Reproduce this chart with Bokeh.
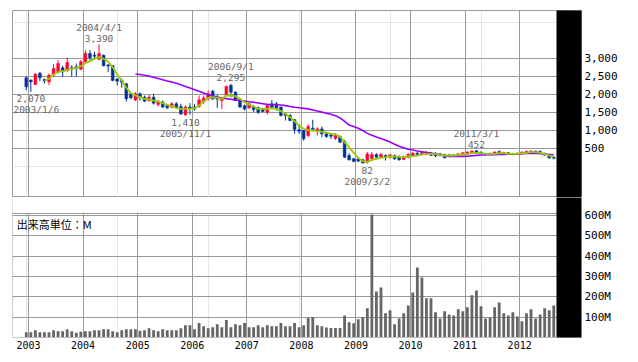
from bokeh.plotting import figure
from bokeh.models import (Range1d, LinearAxis, Grid, FixedTicker, NumeralTickFormatter,
                          Label, ColumnDataSource)
from bokeh.layouts import column
from bokeh.embed import file_html
from bokeh.resources import INLINE
from bokeh.core.properties import value

# ---------------- data (monthly, first bar = 2002/12) ----------------
open_ = [2463, 2400, 2278, 2593, 2420, 2352, 2537, 2630, 2741, 2676,
         2741, 2768, 2704, 2907, 3139, 3093, 2981, 3090, 2820, 2805,
         2430, 2390, 2300, 2020, 1850, 2020, 1925, 1830, 1925, 1720,
         1790, 1700, 1650, 1740, 1665, 1440, 1650, 1650, 1665, 1790,
         1880, 2090, 1925, 1830, 1970, 2250, 2065, 1850, 1690, 1630,
         1665, 1630, 1600, 1510, 1740, 1740, 1650, 1460, 1415, 1300,
         1020, 1000, 860, 1065, 980, 1045, 907, 880, 780, 833,
         695, 305, 215, 210, 185, 120, 215, 330, 260, 305,
         260, 305, 280, 195, 260, 280, 370, 340, 335, 370,
         350, 350, 335, 325, 320, 305, 325, 335, 370, 440,
         400, 360, 330, 350, 420, 360, 380, 360, 330, 350,
         380, 400, 430, 420, 370, 320, 260]
high = [2509, 2417, 2593, 2630, 2444, 2580, 2843, 2954, 2800, 3028,
        2815, 2861, 2954, 3230, 3231, 3185, 3390, 3110, 2850, 2820,
        2460, 2440, 2310, 2055, 2065, 2055, 1970, 1990, 2020, 1850,
        1835, 1740, 1790, 1790, 1740, 1700, 1760, 1740, 1970, 1970,
        2110, 2130, 1990, 1925, 2250, 2295, 2090, 1890, 1720, 1780,
        1700, 1665, 1630, 1740, 1850, 1790, 1665, 1480, 1460, 1320,
        1170, 1020, 1170, 1300, 1090, 1110, 955, 925, 925, 860,
        740, 370, 240, 240, 215, 400, 400, 370, 380, 335,
        350, 335, 305, 305, 370, 400, 400, 420, 430, 400,
        400, 380, 350, 350, 340, 370, 400, 420, 440, 452,
        420, 380, 390, 420, 440, 410, 400, 380, 390, 420,
        440, 450, 440, 440, 380, 330, 280]
low = [2120, 2070, 2260, 2370, 2306, 2260, 2500, 2593, 2490, 2630,
       2490, 2490, 2676, 2861, 2926, 2981, 2954, 2780, 2620, 2370,
       2250, 2190, 1800, 1870, 1815, 1830, 1790, 1790, 1720, 1665,
       1630, 1600, 1620, 1600, 1435, 1410, 1440, 1550, 1630, 1740,
       1830, 1850, 1630, 1600, 1945, 1925, 1815, 1630, 1555, 1600,
       1510, 1460, 1510, 1440, 1600, 1555, 1390, 1280, 1260, 910,
       910, 720, 815, 980, 860, 815, 795, 760, 740, 650,
       240, 165, 120, 120, 90, 82, 165, 240, 240, 165,
       215, 185, 165, 185, 220, 260, 280, 310, 310, 290,
       260, 280, 230, 260, 270, 290, 305, 325, 350, 370,
       340, 300, 310, 330, 350, 330, 320, 310, 315, 330,
       360, 380, 380, 350, 300, 210, 200]
close = [2213, 2352, 2565, 2463, 2380, 2537, 2722, 2861, 2630, 2889,
         2704, 2722, 2907, 3139, 3019, 3065, 3139, 2800, 2790, 2390,
         2370, 2340, 1880, 1910, 2020, 1925, 1815, 1925, 1760, 1815,
         1650, 1630, 1740, 1630, 1460, 1650, 1620, 1600, 1850, 1900,
         2020, 1880, 1870, 1880, 2220, 2065, 1835, 1650, 1600, 1740,
         1575, 1510, 1530, 1690, 1630, 1600, 1415, 1420, 1280, 1030,
         980, 770, 1110, 1020, 1045, 907, 833, 842, 890, 675,
         260, 185, 140, 150, 95, 350, 335, 260, 335, 260,
         325, 215, 185, 260, 335, 370, 325, 390, 400, 315,
         295, 305, 240, 280, 290, 350, 380, 400, 430, 390,
         360, 320, 360, 400, 370, 390, 340, 340, 370, 400,
         420, 430, 400, 370, 320, 240, 230]
volume_m = [25, 25, 35, 25, 25, 25, 35, 30, 30, 40,
            30, 22, 27, 30, 30, 35, 35, 40, 40, 30,
            25, 35, 40, 40, 40, 32, 35, 45, 35, 30,
            40, 35, 35, 35, 45, 60, 60, 40, 70, 55,
            45, 50, 65, 50, 85, 50, 65, 60, 70, 50,
            50, 60, 50, 60, 55, 55, 70, 55, 55, 70,
            50, 60, 95, 100, 59, 54, 49, 46, 46, 46,
            108, 74, 69, 89, 100, 143, 605, 226, 246, 118,
            133, 64, 93, 118, 157, 221, 344, 295, 192, 192,
            123, 93, 128, 113, 108, 138, 128, 148, 207, 231,
            153, 93, 98, 148, 172, 118, 108, 123, 103, 79,
            118, 138, 93, 113, 143, 133, 157]

ma_short_start = 4
ma_short = [2389, 2435, 2555, 2620, 2648, 2685, 2713, 2740, 2787, 2870,
            2926, 2990, 3037, 2990, 2917, 2760, 2555, 2389, 2185, 2037,
            1972, 1926, 1880, 1861, 1833, 1805, 1760, 1713, 1676, 1630,
            1600, 1600, 1600, 1620, 1694, 1805, 1907, 1926, 1907, 1880,
            1972, 1972, 1954, 1880, 1787, 1722, 1667, 1600, 1600, 1600,
            1620, 1600, 1537, 1463, 1370, 1259, 1139, 1046, 1019, 1000,
            981, 972, 944, 907, 889, 833, 676, 537, 380, 241,
            148, 130, 185, 213, 241, 259, 278, 278, 270, 260,
            278, 287, 306, 333, 352, 352, 343, 324, 306, 306,
            306, 315, 333, 352, 370, 370, 370, 352, 352, 352,
            370, 370, 352, 352, 352, 370, 380, 398, 398, 380,
            352, 306, 259]
ma_long_start = 24
ma_long = [2570, 2555, 2535, 2510, 2480, 2445, 2410, 2375, 2345, 2310,
           2270, 2220, 2180, 2135, 2090, 2040, 1990, 1960, 1930, 1905,
           1885, 1870, 1850, 1835, 1820, 1800, 1785, 1765, 1745, 1725,
           1720, 1715, 1710, 1690, 1665, 1645, 1630, 1615, 1600, 1570,
           1540, 1510, 1480, 1450, 1410, 1350, 1250, 1150, 1110, 1060,
           1000, 920, 870, 820, 780, 730, 680, 620, 560, 520,
           480, 460, 430, 410, 390, 375, 350, 325, 290, 280,
           280, 280, 280, 285, 300, 310, 320, 325, 330, 330,
           335, 335, 340, 345, 350, 355, 360, 365, 360, 355,
           345, 335, 325]

price_ticks = [500, 1000, 1500, 2000, 2500, 3000]
volume_ticks = [100, 200, 300, 400, 500, 600]
volume_tick_labels = ["100M", "200M", "300M", "400M", "500M", "600M"]
year_labels = ["2003", "2004", "2005", "2006", "2007", "2008", "2009", "2010", "2011", "2012"]

ann_index = [1, 16, 35, 45, 75, 99]
ann_date = ["2003/1/6", "2004/4/1", "2005/11/1", "2006/9/1", "2009/3/2", "2011/3/1"]
ann_value = ["2,070", "3,390", "1,410", "2,295", "82", "452"]
ann_kind = ["low", "high", "low", "high", "low", "high"]

# ---------------- styling ----------------
GRID = "#999999"
UP = "#ff0033"
DOWN = "#003399"
MONO = "DejaVu Sans Mono"
FRAME_W = 569
ANN_CHAR_W = 5.7   # approx. width of one character of the annotation font (px)

n = len(close)
xs = list(range(n))
x_start, x_end = -3.03, 122.1
px_per_unit = FRAME_W / (x_end - x_start)
bar_edge = n - 0.4
# boundary between December and January of each labelled year
year_bounds = [12 * k + 0.5 for k in range(len(year_labels))]

colors = [UP if c >= o else DOWN for o, c in zip(open_, close)]
src = ColumnDataSource(dict(
    x=xs, o=open_, h=high, l=low, c=close,
    top=[max(o, c) for o, c in zip(open_, close)],
    bot=[min(o, c) for o, c in zip(open_, close)],
    color=colors, vol=volume_m))

# ---------------- price panel ----------------
p1 = figure(frame_width=FRAME_W, frame_height=187,
            x_range=Range1d(x_start, x_end), y_range=Range1d(-861, 4333),
            output_backend="svg", toolbar_location=None,
            x_axis_location=None, y_axis_location=None,
            min_border_left=12, min_border_right=49, min_border_top=10, min_border_bottom=0,
            outline_line_color=GRID, background_fill_color="white", border_fill_color="white")
p1.add_layout(Grid(dimension=0, ticker=FixedTicker(ticks=year_bounds),
                   grid_line_color=GRID, grid_line_width=1))
p1.add_layout(Grid(dimension=1, ticker=FixedTicker(ticks=price_ticks),
                   grid_line_color=GRID, grid_line_width=1))

p1.segment(x0="x", y0="l", x1="x", y1="h", color="color", line_width=1, source=src)
p1.vbar(x="x", width=0.62, top="top", bottom="bot", fill_color="color",
        line_color="color", line_width=0.5, source=src)

p1.line([ma_long_start + i for i in range(len(ma_long))], ma_long,
        line_color="#9900ff", line_width=1.6)
p1.line([ma_short_start + i for i in range(len(ma_short))], ma_short,
        line_color="#99cc00", line_width=1.8)

# annotations: kept inside the frame on the left side
ax, ay, at, ady, adx = [], [], [], [], []
for idx, d, v, k in zip(ann_index, ann_date, ann_value, ann_kind):
    y = high[idx] if k == "high" else low[idx]
    lines = [d, v] if k == "high" else [v, d]
    offs = [-17, -6] if k == "high" else [7, 18]
    for t, oy in zip(lines, offs):
        left_px = (idx - x_start) * px_per_unit - len(t) * ANN_CHAR_W / 2
        ax.append(idx); ay.append(y); at.append(t); ady.append(oy)
        adx.append(max(0.0, 1 - left_px))
p1.text(x=ax, y=ay, text=at, x_offset=adx, y_offset=ady, text_align="center",
        text_baseline="middle", text_color="#666666",
        text_font=value(MONO), text_font_size="9.5px")

p1.quad(left=[bar_edge], right=[x_end + 5], bottom=[-2000], top=[6000],
        fill_color="black", line_color=None)

ax1 = LinearAxis(ticker=FixedTicker(ticks=price_ticks),
                 formatter=NumeralTickFormatter(format="0,0"),
                 axis_line_color=None, major_tick_line_color=None,
                 minor_tick_line_color=None, major_tick_out=0, major_tick_in=0,
                 major_label_standoff=3, major_label_text_font=MONO,
                 major_label_text_font_size="11px", major_label_text_color="black")
p1.add_layout(ax1, "right")

# ---------------- volume panel ----------------
vol_top = 688.6
p2 = figure(frame_width=FRAME_W, frame_height=140,
            x_range=p1.x_range, y_range=Range1d(-0.8, vol_top),
            output_backend="svg", toolbar_location=None,
            x_axis_location=None, y_axis_location=None,
            min_border_left=12, min_border_right=49, min_border_top=0, min_border_bottom=17,
            outline_line_color=None, background_fill_color="white", border_fill_color="white")
p2.add_layout(Grid(dimension=0, ticker=FixedTicker(ticks=[x_start + 0.08] + year_bounds),
                   grid_line_color=GRID, grid_line_width=1))
p2.add_layout(Grid(dimension=1, ticker=FixedTicker(ticks=[0] + volume_ticks + [611.5]),
                   grid_line_color=GRID, grid_line_width=1))

p2.vbar(x="x", width=0.62, top="vol", bottom=0, fill_color="#666666",
        line_color=None, source=src)

# white gap between the two panels, then the black side bar
p2.quad(left=[x_start - 1], right=[bar_edge], bottom=[613.5], top=[vol_top + 50],
        fill_color="white", line_color=None)
p2.quad(left=[bar_edge], right=[x_end + 5], bottom=[-50], top=[vol_top + 50],
        fill_color="black", line_color=None)

p2.add_layout(Label(x=-2.1, y=557, text="出来高単位：M", text_baseline="middle",
                    text_font="Noto Sans CJK JP", text_font_size="11px",
                    text_color="black"))

ax2 = LinearAxis(ticker=FixedTicker(ticks=volume_ticks),
                 major_label_overrides={t: s for t, s in zip(volume_ticks, volume_tick_labels)},
                 axis_line_color=None, major_tick_line_color=None,
                 minor_tick_line_color=None, major_tick_out=0, major_tick_in=0,
                 major_label_standoff=3, major_label_text_font=MONO,
                 major_label_text_font_size="11px", major_label_text_color="black")
p2.add_layout(ax2, "right")

ax3 = LinearAxis(ticker=FixedTicker(ticks=year_bounds),
                 major_label_overrides={b: s for b, s in zip(year_bounds, year_labels)},
                 axis_line_color=None, major_tick_line_color=None,
                 minor_tick_line_color=None, major_tick_out=0, major_tick_in=0,
                 major_label_standoff=3, major_label_text_font=MONO,
                 major_label_text_font_size="10px", major_label_text_color="black")
p2.add_layout(ax3, "below")

layout = column(p1, p2, spacing=0)
open("out.html", "w").write(file_html(layout, INLINE))
